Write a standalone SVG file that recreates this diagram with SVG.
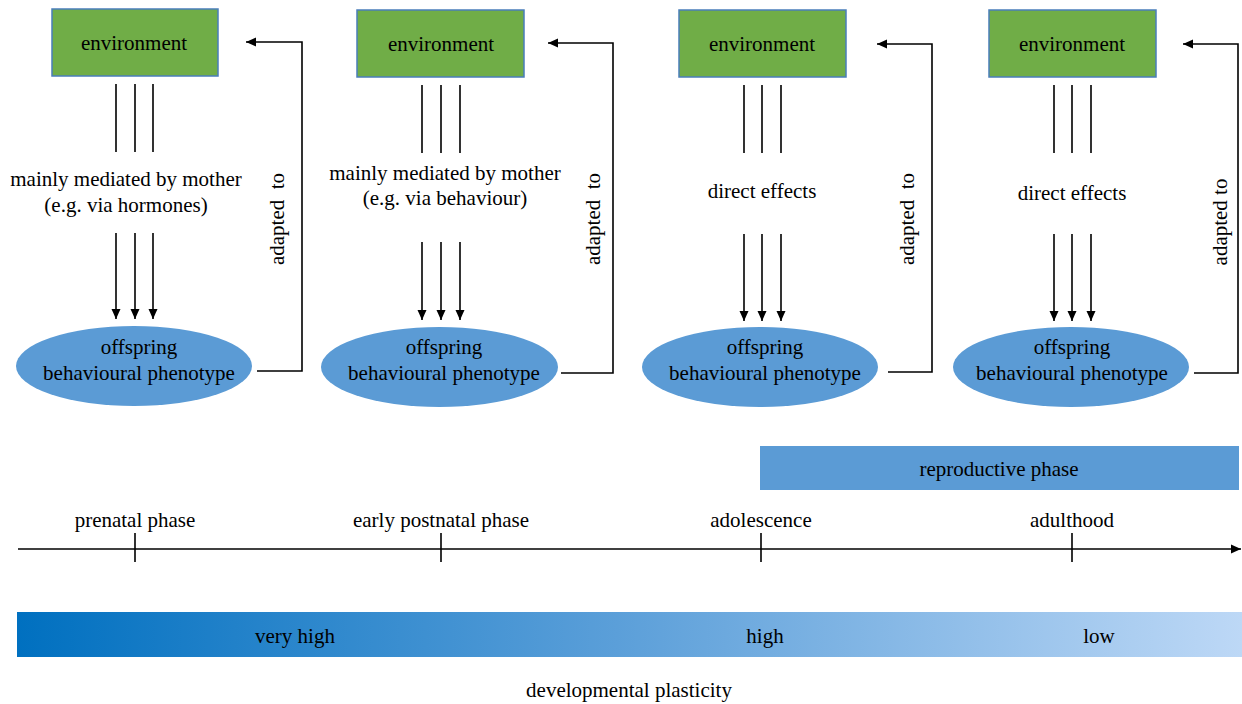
<svg xmlns="http://www.w3.org/2000/svg" width="1242" height="704" viewBox="0 0 1242 704">
<style>
text{font-family:"Liberation Serif","Times New Roman",serif;font-size:21px;fill:#000;text-anchor:middle}
.env{fill:#70AD47;stroke:#4A7EBB;stroke-width:1.5}
.ell{fill:#5B9BD5}
.ln{stroke:#000;stroke-width:1.6;fill:none}
</style>
<defs>
<marker id="ah" viewBox="0 0 10 10" refX="10" refY="5" markerWidth="10" markerHeight="10" markerUnits="userSpaceOnUse" orient="auto">
<path d="M0,0.5 L10,5 L0,9.5 Z" fill="#000"/>
</marker>
<linearGradient id="grad" x1="0" y1="0" x2="1" y2="0">
<stop offset="0" stop-color="#0070C0"/>
<stop offset="0.49" stop-color="#5B9FD9"/>
<stop offset="1" stop-color="#BDD8F6"/>
</linearGradient>
</defs>
<rect width="1242" height="704" fill="#fff"/>

<g id="env1"><rect class="env" x="52" y="9" width="166" height="67"/><text x="134" y="50">environment</text></g>
<g id="env2"><rect class="env" x="357" y="10" width="167" height="67"/><text x="441" y="51">environment</text></g>
<g id="env3"><rect class="env" x="679" y="10" width="167" height="67"/><text x="762" y="51">environment</text></g>
<g id="env4"><rect class="env" x="989" y="10" width="167" height="67"/><text x="1072" y="51">environment</text></g>

<g id="med1"><text x="126" y="186">mainly mediated by mother</text><text x="126" y="212">(e.g. via hormones)</text></g>
<g id="med2"><text x="445" y="180">mainly mediated by mother</text><text x="445" y="205">(e.g. via behaviour)</text></g>
<g id="med3"><text x="762" y="198">direct effects</text></g>
<g id="med4"><text x="1072" y="200">direct effects</text></g>

<g id="off1"><ellipse class="ell" cx="134" cy="366" rx="118" ry="40"/><text x="139" y="354">offspring</text><text x="139" y="380">behavioural phenotype</text></g>
<g id="off2"><ellipse class="ell" cx="439.5" cy="367" rx="118.5" ry="40"/><text x="444" y="354">offspring</text><text x="444" y="380">behavioural phenotype</text></g>
<g id="off3"><ellipse class="ell" cx="760" cy="367" rx="118" ry="40"/><text x="765" y="354">offspring</text><text x="765" y="380">behavioural phenotype</text></g>
<g id="off4"><ellipse class="ell" cx="1071" cy="367" rx="118" ry="40"/><text x="1072" y="354">offspring</text><text x="1072" y="380">behavioural phenotype</text></g>

<g id="connectors">
<path class="ln" d="M116,84V152M135,84V152M153,84V152"/>
<path class="ln" d="M116,233V319" marker-end="url(#ah)"/><path class="ln" d="M135,233V319" marker-end="url(#ah)"/><path class="ln" d="M153,233V319" marker-end="url(#ah)"/>
<path class="ln" d="M422,85V153M441,85V153M460,85V153"/>
<path class="ln" d="M422,242V320" marker-end="url(#ah)"/><path class="ln" d="M441,242V320" marker-end="url(#ah)"/><path class="ln" d="M460,242V320" marker-end="url(#ah)"/>
<path class="ln" d="M744,85V153M762,85V153M781,85V153"/>
<path class="ln" d="M744,234V321" marker-end="url(#ah)"/><path class="ln" d="M762,234V321" marker-end="url(#ah)"/><path class="ln" d="M781,234V321" marker-end="url(#ah)"/>
<path class="ln" d="M1054,85V153M1072,85V153M1091,85V153"/>
<path class="ln" d="M1054,234V321" marker-end="url(#ah)"/><path class="ln" d="M1072,234V321" marker-end="url(#ah)"/><path class="ln" d="M1091,234V321" marker-end="url(#ah)"/>

<path class="ln" d="M257,371H302V42H246" marker-end="url(#ah)"/>
<path class="ln" d="M561,373H613V43H548" marker-end="url(#ah)"/>
<path class="ln" d="M888,372H932V44H877" marker-end="url(#ah)"/>
<path class="ln" d="M1194,373H1238V44H1183" marker-end="url(#ah)"/>
<text transform="translate(284,219) rotate(-90)" xml:space="preserve">adapted  to</text>
<text transform="translate(600,219) rotate(-90)" xml:space="preserve">adapted  to</text>
<text transform="translate(914,219) rotate(-90)" xml:space="preserve">adapted  to</text>
<text transform="translate(1227,222) rotate(-90)">adapted to</text>
</g>

<g id="repro"><rect x="760" y="446" width="479" height="44" fill="#5B9BD5"/><text x="999" y="476">reproductive phase</text></g>

<g id="timeline">
<path class="ln" d="M18,549H1241" marker-end="url(#ah)"/>
<path class="ln" d="M135,533V562M441,533V562M761,533V562M1072,533V562"/>
<text x="135" y="527">prenatal phase</text>
<text x="441" y="527">early postnatal phase</text>
<text x="761" y="527">adolescence</text>
<text x="1072" y="527">adulthood</text>
</g>

<g id="plasticity">
<rect x="17" y="612" width="1225" height="45" fill="url(#grad)"/>
<text x="295" y="643">very high</text>
<text x="765" y="643">high</text>
<text x="1099" y="643">low</text>
<text x="629" y="697">developmental plasticity</text>
</g>
</svg>
